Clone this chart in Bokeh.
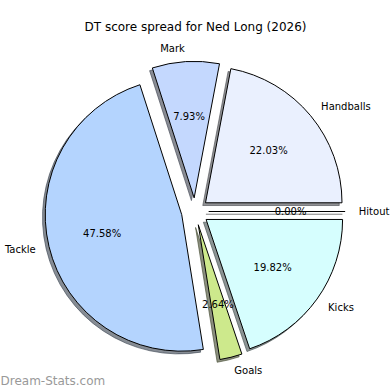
import math
from bokeh.plotting import figure
from bokeh.models import Range1d, ColumnDataSource
from bokeh.core.properties import value
from bokeh.embed import file_html
from bokeh.resources import INLINE

# ---- data ----
categories = ["Hitout", "Handballs", "Mark", "Tackle", "Goals", "Kicks"]
scores = [0, 50, 18, 108, 6, 45]
colors = ["#fde0dd", "#eaf0fe", "#c4d8fe", "#b4d4fe", "#cde98c", "#d6fefe"]
title_text = "DT score spread for Ned Long (2026)"
watermark = "Dream-Stats.com"

# ---- layout constants ----
R = 1.0
EXPLODE = 0.1
PCT_DIST = 0.6
LBL_DIST = 1.1
SCALE = 136.5          # px per data unit
CX_PX, CY_PX = 194.5, 211.0
W = H = 390
FONT = value("DejaVu Sans")

def px_x(px):
    return (px - CX_PX) / SCALE

def px_y(py):
    return (CY_PX - py) / SCALE

p = figure(width=W, height=H, output_backend="svg", toolbar_location=None,
           x_range=Range1d(px_x(0), px_x(W)), y_range=Range1d(px_y(H), px_y(0)),
           min_border=0)
p.axis.visible = False
p.grid.visible = False
p.outline_line_color = None

total = float(sum(scores))
start = 0.0
wedges = dict(x=[], y=[], s=[], e=[], c=[], sc=[])
segs = dict(x0=[], y0=[], x1=[], y1=[])
pct = dict(x=[], y=[], t=[])
lbl_l = dict(x=[], y=[], t=[])
lbl_r = dict(x=[], y=[], t=[])

def shade(hexc):
    r = int(hexc[1:3], 16); g = int(hexc[3:5], 16); b = int(hexc[5:7], 16)
    return "#%02x%02x%02x" % (int(r * 0.3), int(g * 0.3), int(b * 0.3))

for cat, v, col in zip(categories, scores, colors):
    span = 2 * math.pi * v / total
    t1, t2 = start, start + span
    tm = (t1 + t2) / 2
    ox = EXPLODE * R * math.cos(tm)
    oy = EXPLODE * R * math.sin(tm)
    if v > 0:
        wedges["x"].append(ox); wedges["y"].append(oy)
        wedges["s"].append(t1); wedges["e"].append(t2)
        wedges["c"].append(col); wedges["sc"].append(shade(col))
    else:
        segs["x0"].append(ox); segs["y0"].append(oy)
        segs["x1"].append(ox + R * math.cos(t1)); segs["y1"].append(oy + R * math.sin(t1))
    pct["x"].append(ox + PCT_DIST * R * math.cos(tm))
    pct["y"].append(oy + PCT_DIST * R * math.sin(tm))
    pct["t"].append("%.2f%%" % (100 * v / total))
    lx = ox + LBL_DIST * R * math.cos(tm)
    ly = oy + LBL_DIST * R * math.sin(tm)
    d = lbl_l if lx > 0 else lbl_r
    d["x"].append(lx); d["y"].append(ly); d["t"].append(cat)
    start = t2

ws = ColumnDataSource(wedges)
ss = ColumnDataSource(segs)

# shadows (offset left/down)
sh = dict(wedges)
sh["x"] = [x - 0.02 for x in wedges["x"]]
sh["y"] = [y - 0.02 for y in wedges["y"]]
p.wedge(x="x", y="y", radius=R, start_angle="s", end_angle="e",
        source=ColumnDataSource(sh), fill_color="sc", fill_alpha=0.6,
        line_color="sc", line_alpha=0.6, line_width=1, direction="anticlock")
ssh = dict(x0=[x - 0.02 for x in segs["x0"]], y0=[y - 0.02 for y in segs["y0"]],
           x1=[x - 0.02 for x in segs["x1"]], y1=[y - 0.02 for y in segs["y1"]])
p.segment(x0="x0", y0="y0", x1="x1", y1="y1", source=ColumnDataSource(ssh),
          line_color="#000000", line_alpha=0.5, line_width=1)

# wedges
p.wedge(x="x", y="y", radius=R, start_angle="s", end_angle="e", source=ws,
        fill_color="c", line_color="black", line_width=1, direction="anticlock")
p.segment(x0="x0", y0="y0", x1="x1", y1="y1", source=ss, line_color="black", line_width=1)

# texts
p.text(x="x", y="y", text="t", source=ColumnDataSource(pct), text_font=FONT,
       text_font_size="10px", text_align="center", text_baseline="middle", text_color="black")
p.text(x="x", y="y", text="t", source=ColumnDataSource(lbl_l), text_font=FONT,
       text_font_size="10px", text_align="left", text_baseline="middle", text_color="black")
p.text(x="x", y="y", text="t", source=ColumnDataSource(lbl_r), text_font=FONT,
       text_font_size="10px", text_align="right", text_baseline="middle", text_color="black")

p.text(x=[px_x(195)], y=[px_y(26)], text=[title_text], text_font=FONT,
       text_font_size="12px", text_align="center", text_baseline="middle", text_color="black")
p.text(x=[px_x(0)], y=[px_y(380)], text=[watermark], text_font=FONT,
       text_font_size="12px", text_align="left", text_baseline="middle",
       text_color="#999999")

open("out.html", "w").write(file_html(p, INLINE))
